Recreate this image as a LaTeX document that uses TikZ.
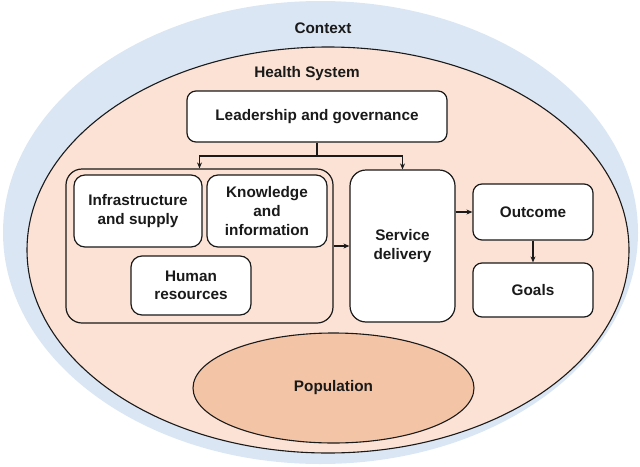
\documentclass[tikz,border=0pt]{standalone}
\usepackage{fontspec}
\setmainfont{Liberation Sans}
\usetikzlibrary{shapes.geometric,arrows.meta}
\definecolor{ctxblue}{HTML}{DAE6F4}
\definecolor{hspeach}{HTML}{FCE2D4}
\definecolor{poppeach}{HTML}{F4C4A6}
\definecolor{ink}{HTML}{1A1A1A}
\begin{document}
\begin{tikzpicture}[x=1pt,y=-1pt,
  every node/.style={font=\fontsize{15.3}{18.6}\selectfont\bfseries, text=ink},
  box/.style={draw=ink, line width=1.2pt, fill=white, rounded corners=9pt, inner sep=0pt, align=center},
  conn/.style={draw=ink, line width=1.1pt},
  arr/.style={conn, -{Stealth[length=6pt,width=5pt]}}]
\useasboundingbox (0,0) rectangle (640,466);
\node[ellipse, fill=ctxblue, minimum width=635pt, minimum height=463pt, inner sep=0pt] (context) at (320.5,232.5) {};
\node[ellipse, fill=hspeach, draw=ink, line width=1.1pt, minimum width=602pt, minimum height=406pt, inner sep=0pt] (health) at (328,250) {};
\node[ellipse, fill=poppeach, draw=ink, line width=1.1pt, minimum width=281pt, minimum height=110pt, inner sep=0pt] (population) at (333.5,388) {Population};
\node (contextlabel) at (323,28) {Context};
\node (healthlabel) at (307,74) {Health System};
\node[box, minimum width=260pt, minimum height=51pt] (leader) at (317,116.5) {Leadership and governance};
\node[box, fill=none, rounded corners=16pt, minimum width=267pt, minimum height=154pt] (group) at (199.5,246) {};
\node[box, rounded corners=11pt, minimum width=128pt, minimum height=72pt] (infra) at (138,211) {Infrastructure\\and supply};
\node[box, rounded corners=11pt, minimum width=120pt, minimum height=72pt] (know) at (267,211) {Knowledge\\and\\information};
\node[box, rounded corners=11pt, minimum width=120pt, minimum height=59pt] (human) at (191,285.5) {Human\\resources};
\node[box, rounded corners=16pt, minimum width=105pt, minimum height=152pt] (service) at (402.5,246) {Service\\delivery};
\node[box, minimum width=120pt, minimum height=56pt] (outcome) at (533,212) {Outcome};
\node[box, minimum width=120pt, minimum height=54pt] (goals) at (533,290) {Goals};
\coordinate (junction) at (317,156);
\draw[conn] (leader.south) -- (junction);
\draw[arr] (junction) -| (group.north);
\draw[arr] (junction) -| (service.north);
\draw[arr] (group.east) -- (service.west);
\draw[arr] (service.east |- outcome.west) -- (outcome.west);
\draw[arr] (outcome.south) -- (goals.north);
\end{tikzpicture}
\end{document}
